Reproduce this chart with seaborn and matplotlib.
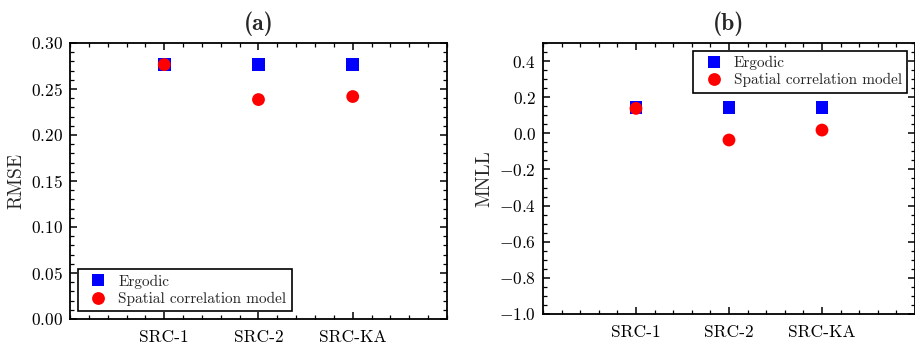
import matplotlib
matplotlib.use("Agg")
import matplotlib.pyplot as plt
import seaborn as sns
import pandas as pd
from matplotlib.ticker import MultipleLocator

categories = ["SRC-1", "SRC-2", "SRC-KA"]
models = ["Ergodic", "Spatial correlation model"]
rmse_ergodic = [0.277, 0.277, 0.277]
rmse_spatial = [0.2765, 0.2385, 0.2418]
mnll_ergodic = [0.145, 0.145, 0.145]
mnll_spatial = [0.138, -0.037, 0.018]

sns.set_theme(style="ticks")
plt.rcParams["font.family"] = ["cmr10", "DejaVu Serif"]
plt.rcParams["mathtext.fontset"] = "cm"
plt.rcParams["axes.formatter.use_mathtext"] = True
plt.rcParams["axes.unicode_minus"] = True

def make_df(erg, spa):
    rows = []
    for c, v in zip(categories, erg):
        rows.append({"cat": c, "model": models[0], "val": v})
    for c, v in zip(categories, spa):
        rows.append({"cat": c, "model": models[1], "val": v})
    return pd.DataFrame(rows)

fig = plt.figure(figsize=(9.15, 3.45), dpi=100)
ax1 = fig.add_axes([0.0765, 0.0754, 0.412, 0.80])
ax2 = fig.add_axes([0.5934, 0.0899, 0.4066, 0.7855])

palette = {models[0]: "blue", models[1]: "red"}
markers = {models[0]: "s", models[1]: "o"}

for ax, erg, spa, ylab, title, ylim, maj, mnr, loc in [
    (ax1, rmse_ergodic, rmse_spatial, "RMSE", "(a)", (0, 0.30), 0.05, 0.01, "lower left"),
    (ax2, mnll_ergodic, mnll_spatial, "MNLL", "(b)", (-1.0, 0.5), 0.2, 0.05, "upper right"),
]:
    df = make_df(erg, spa)
    sns.scatterplot(data=df, x="cat", y="val", hue="model", style="model",
                    palette=palette, markers=markers, s=85, linewidth=0,
                    ax=ax, zorder=3)
    ax.set_xlim(-1, 3)
    ax.set_ylim(*ylim)
    ax.yaxis.set_major_locator(MultipleLocator(maj))
    ax.yaxis.set_minor_locator(MultipleLocator(mnr))
    ax.xaxis.set_minor_locator(MultipleLocator(0.2))
    ax.tick_params(which="both", direction="in", top=True, right=True, colors="black")
    ax.tick_params(axis="y", labelsize=12.5, pad=5)
    ax.tick_params(axis="x", labelsize=12.5, pad=8)
    ax.tick_params(which="major", length=5, width=1.1)
    ax.tick_params(which="minor", length=3, width=0.9)
    for sp in ax.spines.values():
        sp.set_linewidth(1.3)
        sp.set_color("black")
    ax.set_xlabel("")
    ax.set_ylabel(ylab, fontsize=14)
    ax.set_title(title, fontsize=17, fontweight="bold", family=["cmb10", "DejaVu Serif"], pad=9)
    if ylab == "RMSE":
        ax.yaxis.set_major_formatter(matplotlib.ticker.FormatStrFormatter(r"$%.2f$"))
    else:
        ax.yaxis.set_major_formatter(matplotlib.ticker.FuncFormatter(lambda v, p: r"$%.1f$" % v))
    leg = ax.legend(loc=loc, fontsize=11, frameon=True, fancybox=False,
                    edgecolor="black", framealpha=1, handletextpad=0.3,
                    borderpad=0.35, labelspacing=0.2, title=None)
    leg.get_frame().set_linewidth(1.2)

fig.savefig("out.png", dpi=100)
